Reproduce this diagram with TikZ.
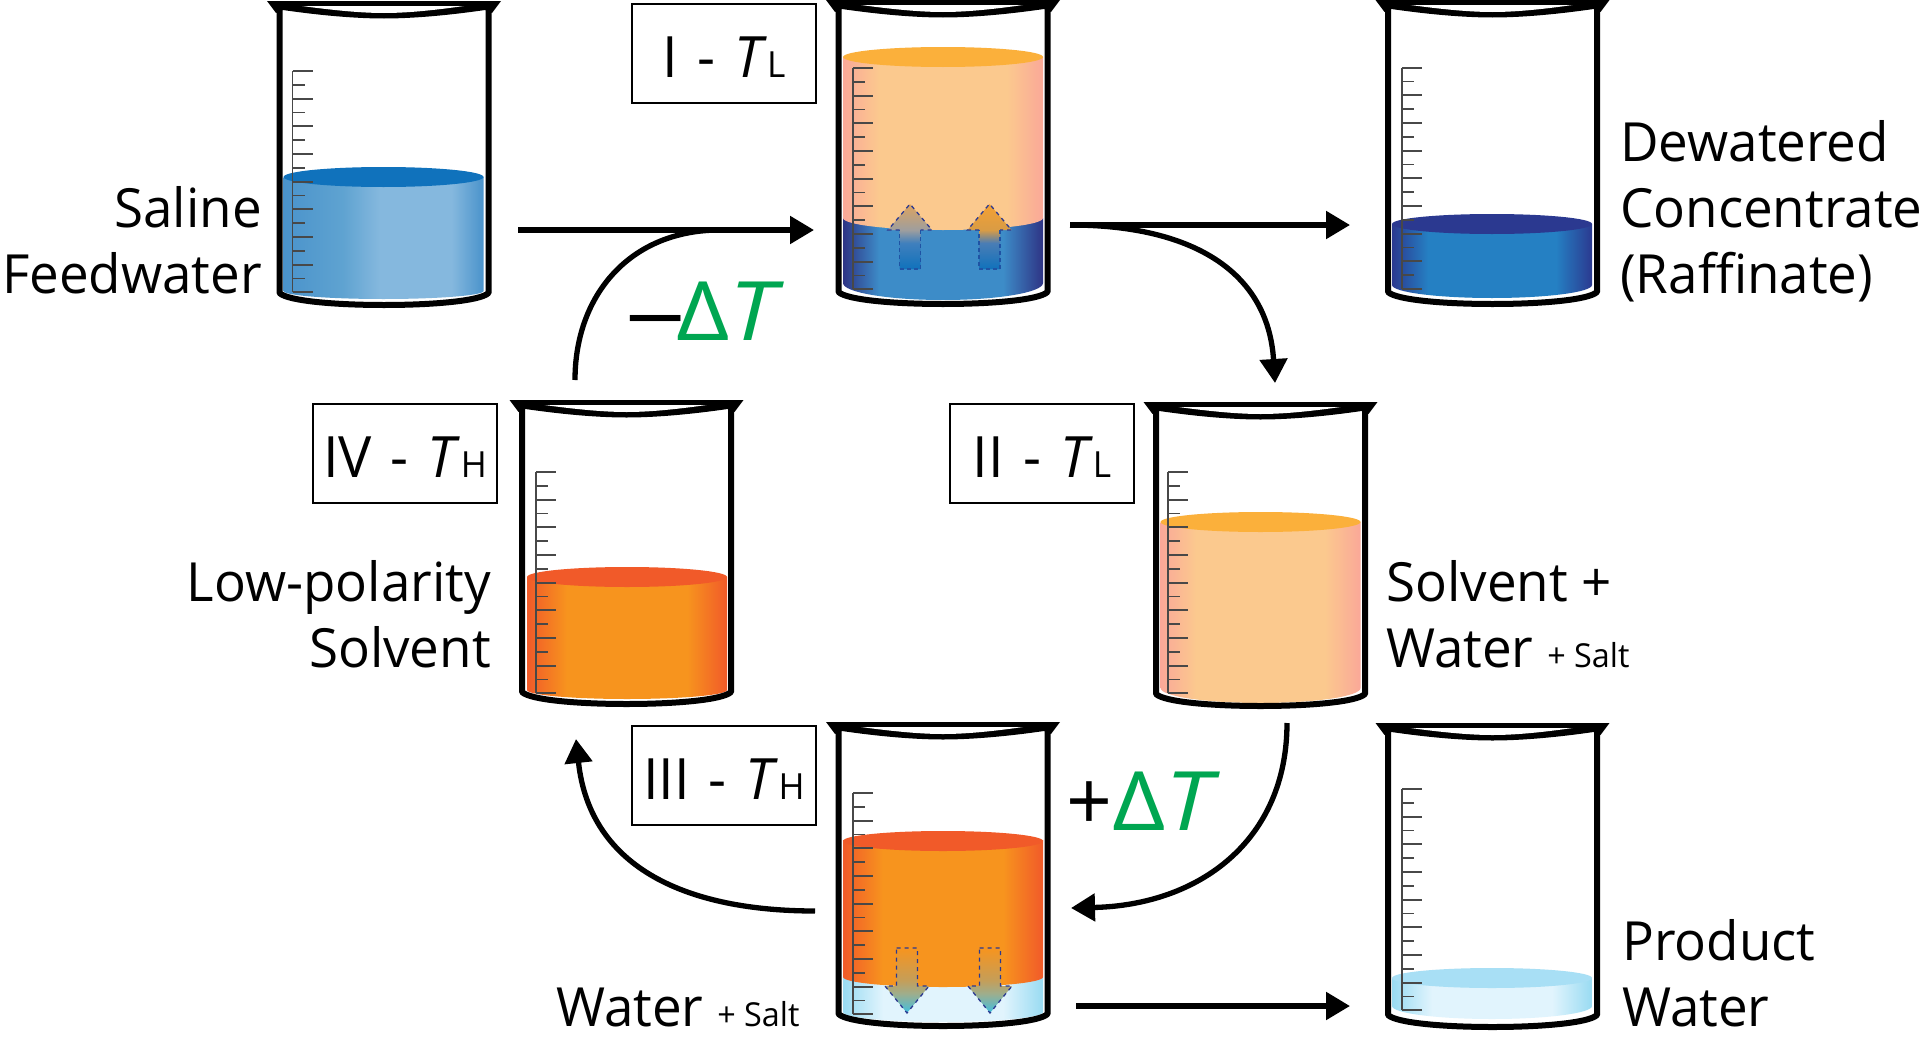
\documentclass[tikz,border=0pt]{standalone}
\usepackage{fontspec}
\setmainfont[FakeStretch=0.98]{Open Sans}
\newfontfamily\widefont[FakeStretch=1.14]{Open Sans}
\usetikzlibrary{arrows.meta}
\definecolor{feedE}{HTML}{4A93CB}\definecolor{feedA}{HTML}{5FA3D1}\definecolor{feedM}{HTML}{85B8DE}\definecolor{feedT}{HTML}{1072BC}
\definecolor{dewE}{HTML}{2B3990}\definecolor{dewM}{HTML}{2580C3}
\definecolor{watM}{HTML}{3D8CC8}\definecolor{watE}{HTML}{2E3485}
\definecolor{solE}{HTML}{FAA898}\definecolor{solM}{HTML}{FBC98E}\definecolor{solT}{HTML}{FBB03B}
\definecolor{oraE}{HTML}{F15A29}\definecolor{oraM}{HTML}{F7941E}
\definecolor{proE}{HTML}{99DBF2}\definecolor{proM}{HTML}{E1F4FD}\definecolor{proT}{HTML}{A8DFF5}
\definecolor{dgreen}{HTML}{00A651}\definecolor{dashblue}{HTML}{2B3990}\definecolor{tickgray}{HTML}{484848}
\pgfdeclarehorizontalshading{feedsh}{100bp}{color(0bp)=(feedE);color(25bp)=(feedE);color(40bp)=(feedA);color(49bp)=(feedM);color(67bp)=(feedM);color(75bp)=(feedE);color(100bp)=(feedE)}
\pgfdeclarehorizontalshading{dewsh}{100bp}{color(0bp)=(dewE);color(25bp)=(dewE);color(34bp)=(dewM);color(66bp)=(dewM);color(75bp)=(dewE);color(100bp)=(dewE)}
\pgfdeclarehorizontalshading{watsh}{100bp}{color(0bp)=(watE);color(25bp)=(watE);color(34bp)=(watM);color(65bp)=(watM);color(75bp)=(watE);color(100bp)=(watE)}
\pgfdeclarehorizontalshading{solsh}{100bp}{color(0bp)=(solE);color(25bp)=(solE);color(34bp)=(solM);color(66bp)=(solM);color(75bp)=(solE);color(100bp)=(solE)}
\pgfdeclarehorizontalshading{orash}{100bp}{color(0bp)=(oraE);color(25bp)=(oraE);color(35bp)=(oraM);color(65bp)=(oraM);color(75bp)=(oraE);color(100bp)=(oraE)}
\pgfdeclarehorizontalshading{prosh}{100bp}{color(0bp)=(proE);color(25bp)=(proE);color(35bp)=(proM);color(65bp)=(proM);color(75bp)=(proE);color(100bp)=(proE)}
\pgfdeclareverticalshading{uparrA}{100bp}{color(0bp)=(feedT);color(25bp)=(feedT);rgb(45bp)=(0.25,0.5,0.74);rgb(55bp)=(0.62,0.62,0.62);rgb(75bp)=(0.87,0.64,0.37);rgb(100bp)=(0.87,0.64,0.37)}
\pgfdeclareverticalshading{uparrB}{100bp}{color(0bp)=(feedT);color(25bp)=(feedT);rgb(45bp)=(0.29,0.49,0.71);rgb(55bp)=(0.85,0.61,0.27);rgb(75bp)=(0.96,0.63,0.2);rgb(100bp)=(0.96,0.63,0.2)}
\pgfdeclareverticalshading{downarr}{100bp}{rgb(0bp)=(0.25,0.75,0.88);rgb(25bp)=(0.25,0.75,0.88);rgb(40bp)=(0.62,0.68,0.55);rgb(50bp)=(0.77,0.62,0.35);color(75bp)=(oraM);color(100bp)=(oraM)}
\newcommand\liqbody[5]{% cx, ytop, yside, ry, shading
  \begin{scope}[shift={(#1,0)}]
    \pgfmathsetmacro\mya{#3+0.55*#4}\pgfmathsetmacro\myb{#3+#4}
    \shade[shading=#5] (-100,#2) -- (-100,#3) .. controls (-100,\mya) and (-55,\myb) .. (0,\myb)
      .. controls (55,\myb) and (100,\mya) .. (100,#3) -- (100,#2) -- cycle;
  \end{scope}}
\newcommand\liqtop[3]{\fill[#3] (#1,#2) ellipse [x radius=100,y radius=10];}
\newcommand\glass[5]{% name, cx, rim, tick x offset, first tick y
  \coordinate (#1) at (#2,#3);
  \begin{scope}[shift={(#2,#3)}]
    \draw[line width=6pt,line join=round] (-104.5,8) -- (-104.5,292) .. controls (-88,308) and (88,308) .. (104.5,292) -- (104.5,8);
    \fill (-117,0) -- (117,0) -- (108,12) -- (101,9) .. controls (60,15) and (25,17.5) .. (0,17.5) .. controls (-25,17.5) and (-60,15) .. (-101,9) -- (-108,12) -- cycle;
    \fill[white] (-82,5) -- (80,5) .. controls (45,10) and (20,12) .. (0,12) .. controls (-20,12) and (-45,10) .. (-82,5) -- cycle;
  \end{scope}
  \begin{scope}[shift={(#2,0)}]
    \draw[tickgray,line width=1.9pt] (#4,#5) -- (#4,#5+221.3);
    \foreach \i in {0,...,16}{
      \pgfmathsetmacro\ty{#5+\i*13.83}
      \ifodd\i \draw[tickgray,line width=1.9pt] (#4,\ty) -- (#4+12,\ty);
      \else \draw[tickgray,line width=1.9pt] (#4,\ty) -- (#4+20,\ty); \fi}
  \end{scope}}
\tikzset{dashhead/.style={draw=dashblue,dash pattern=on 4pt off 4pt,line width=1.3pt},
  dashshaft/.style={draw=dashblue!55!feedT,dash pattern=on 4pt off 3pt,line width=1.1pt}}
\newcommand\uparr[2]{\shade[shading=#2]
   (#1,204) -- (#1+22,230) -- (#1+10.5,230) -- (#1+10.5,269) -- (#1-10.5,269) -- (#1-10.5,230) -- (#1-22,230) -- cycle;
   \draw[dashhead] (#1-10.5,230) -- (#1-22,230) -- (#1,204) -- (#1+22,230) -- (#1+10.5,230);
   \draw[dashshaft] (#1+10.5,230) -- (#1+10.5,269) -- (#1-10.5,269) -- (#1-10.5,230);}
\newcommand\downarr[1]{\shade[shading=downarr,dashhead]
   (#1-10.5,948) -- (#1+10.5,948) -- (#1+10.5,986) -- (#1+22,986) -- (#1,1013) -- (#1-22,986) -- (#1-10.5,986) -- cycle;}
\tikzset{
  flow/.style={line width=5.3pt,-{Triangle[length=24pt,width=27pt]}},
  big/.style={font=\fontsize{54}{66}\selectfont,inner sep=0pt},
  tagbox/.style={draw,line width=2pt,minimum width=0pt,text width=184pt,text height=73pt,text depth=26pt,inner sep=0pt,align=center,anchor=north west,font=\fontsize{57}{60}\selectfont},
  delta/.style={font=\fontsize{82}{90}\selectfont,inner sep=0pt,anchor=base west}
}
\newcommand\sm[1]{{\fontsize{33}{40}\selectfont #1}}
\newcommand\smb[1]{{\fontsize{36}{40}\selectfont #1}}
\begin{document}
\begin{tikzpicture}[x=1pt,y=-1pt]
\useasboundingbox (0,0) rectangle (1920,1044);
\fill[white] (0,0) rectangle (1920,1044);
% feed
\liqbody{383.5}{177}{291}{8}{feedsh}\liqtop{383.5}{177}{feedT}
\glass{feed}{384}{1}{-91.5}{71}
% I
\liqbody{943}{218}{283}{17}{watsh}\liqbody{943}{57}{218}{12}{solsh}\liqtop{943}{57}{solT}
\uparr{910}{uparrA}\uparr{989.5}{uparrB}
\glass{one}{943}{0}{-90}{68}
% dewatered
\liqbody{1492}{224}{285}{13}{dewsh}\liqtop{1492}{224}{dewE}
\glass{dew}{1492.5}{0}{-90.5}{67.7}
% IV
\liqbody{627}{577}{690}{9}{orash}\liqtop{627}{577}{oraE}
\glass{four}{626.5}{400}{-90.5}{472}
% II
\liqbody{1260.5}{522}{688}{15}{solsh}\liqtop{1260.5}{522}{solT}
\glass{two}{1260.5}{402}{-92.5}{472}
% III
\liqbody{943}{977}{1012}{10}{prosh}\liqbody{943}{840}{977}{10}{orash}\liqtop{943}{841}{oraE}
\downarr{907}\downarr{990}
\glass{three}{943}{722}{-90}{793}
% product
\liqbody{1492}{978}{1006}{13}{prosh}\liqtop{1492}{978}{proT}
\glass{prod}{1492.5}{723}{-90.5}{789}
% connector ends
\coordinate (a1s) at (518,230);\coordinate (a1e) at (814,230);
\coordinate (a2s) at (575,380);
\coordinate (a3s) at (1070,225);\coordinate (a3e) at (1350,225);
\coordinate (a4e) at (1275,383);
\coordinate (a5s) at (1287,723);\coordinate (a5e) at (1071,908);
\coordinate (a6s) at (1076,1006);\coordinate (a6e) at (1350,1006);
\coordinate (a7s) at (815,911);\coordinate (a7e) at (576,739);
\draw[line width=5.3pt] (a2s) .. controls (575,295) and (630,230) .. (720,230);
\draw[flow] (a1s) -- (a1e);
\draw[flow] (a3s) -- (a3e);
\draw[flow] (a3s) .. controls (1190,225) and (1268,270) .. (a4e);
\draw[flow] (a5s) .. controls (1287,840) and (1200,905) .. (a5e);
\draw[flow] (a6s) -- (a6e);
\draw[flow] (a7s) .. controls (690,911) and (590,870) .. (a7e);
% boxes
\node[tagbox] (bI) at (631,3) {I - \textit{T}\smb{L}};
\node[tagbox] (bII) at (949,403) {II - \textit{T}\smb{L}};
\node[tagbox] (bIII) at (631,725) {III - \textit{T}\smb{H}};
\node[tagbox] (bIV) at (312,403) {IV - \textit{T}\smb{H}};
% labels
\node[big,anchor=base east,align=right] (lfeed) at (262,293) {Saline\\Feedwater};
\node[big,anchor=base west,align=left] (ldew) at (1620,293) {Dewatered\\Concentrate\\(Raffinate)};
\node[big,anchor=base east,align=right] (llow) at (491,667) {Low-polarity\\Solvent};
\node[big,anchor=base west,align=left] (lsol) at (1386,667) {Solvent +\\Water \sm{+ Salt}};
\node[big,anchor=base west] (lwat) at (556,1026) {Water \sm{+ Salt}};
\node[big,anchor=base west,align=left] (lprod) at (1622,1026) {Product\\Water};
\node[delta] (dm) at (625,340) {\scalebox{1.5}[1]{–}\kern-9pt\textcolor{dgreen}{\widefont Δ\textit{T}}};
\node[delta] (dp) at (1066,830) {+\textcolor{dgreen}{\widefont Δ\textit{T}}};
\end{tikzpicture}
\end{document}
